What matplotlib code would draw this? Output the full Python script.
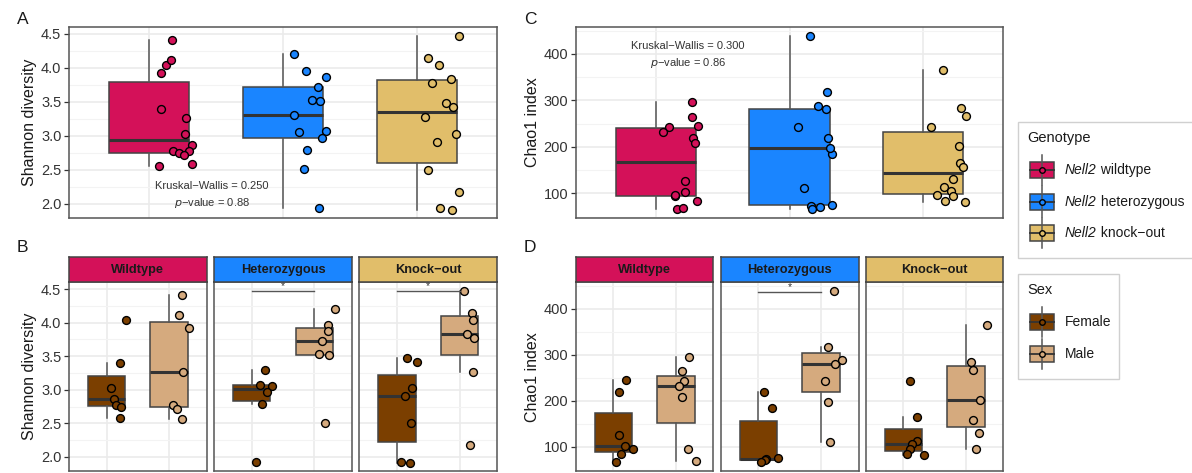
import numpy as np
import matplotlib.pyplot as plt
from matplotlib.patches import Rectangle
from matplotlib.lines import Line2D
from matplotlib.ticker import MultipleLocator
import matplotlib.transforms as mtransforms

plt.rcParams['font.family'] = ['Liberation Sans', 'DejaVu Sans']

# genotype groups and sexes
genotypes = ['Wildtype', 'Heterozygous', 'Knock\u2212out']
legend_geno = ['wildtype', 'heterozygous', 'knock\u2212out']
sexes = ['Female', 'Male']

geno_colors = ['#D41159', '#1A85FF', '#E1BE6A']
sex_colors = ['#7B3F00', '#D5AA7E']

# Shannon diversity per genotype / sex
sh_wt_f = [4.04, 3.40, 3.02, 2.86, 2.77, 2.74, 2.58]
sh_wt_m = [4.41, 4.11, 3.92, 3.26, 2.78, 2.72, 2.56]
sh_het_f = [3.30, 3.07, 3.05, 2.97, 2.79, 1.93]
sh_het_m = [4.20, 3.96, 3.87, 3.72, 3.53, 3.51, 2.51]
sh_ko_f = [3.48, 3.42, 3.02, 2.91, 2.50, 1.93, 1.91]
sh_ko_m = [4.47, 4.15, 4.04, 3.83, 3.77, 3.27, 2.17]

# Chao1 index per genotype / sex
ch_wt_f = [245, 220, 126, 102, 95, 83, 67]
ch_wt_m = [296, 265, 242, 233, 208, 96, 69]
ch_het_f = [220, 184, 75, 73, 71, 67]
ch_het_m = [439, 318, 288, 281, 243, 197, 111]
ch_ko_f = [242, 165, 113, 106, 96, 83, 81]
ch_ko_m = [365, 284, 267, 201, 157, 130, 95]

# horizontal jitter of the points (female then male)
ja_wt = [.122, .087, .271, .318, .177, .224, .318, .169, .159, .085, .276, .296, .259, .072]
ja_het = [.082, .318, .122, .291, .177, .271, .082, .169, .318, .259, .219, .274, .157]
ja_ko = [.216, .271, .291, .154, .082, .174, .266, .318, .082, .167, .259, .117, .065, .318]
jc_wt = [.313, .280, .220, .218, .145, .308, .158, .268, .270, .098, .053, .290, .145, .203]
jc_het = [.288, .320, .315, .163, .225, .168, .153, .280, .215, .273, .063, .300, .105]
jc_ko = [.063, .280, .158, .213, .105, .165, .318, .153, .288, .320, .270, .300, .225, .225]

jb_wt = [[.309, .213, .064, .122, .154, .234, .213], [.213, .160, .314, .223, .059, .122, .202]]
jb_het = [[.218, .128, .330, .239, .170, .074], [.324, .218, .213, .122, .069, .234, .165]]
jb_ko = [[.160, .324, .239, .128, .218, .069, .213], [.064, .191, .207, .117, .229, .207, .165]]
jd_wt = [[.199, .081, .086, .183, .312, .129, .043], [.210, .091, .134, .054, .091, .199, .328]]
jd_het = [[.097, .210, .320, .129, .100, .048], [.210, .113, .328, .215, .065, .113, .145]]
jd_ko = [[.108, .220, .210, .145, .102, .059, .333], [.344, .075, .113, .226, .113, .215, .156]]

shannon = [[sh_wt_f, sh_wt_m], [sh_het_f, sh_het_m], [sh_ko_f, sh_ko_m]]
chao = [[ch_wt_f, ch_wt_m], [ch_het_f, ch_het_m], [ch_ko_f, ch_ko_m]]

# Kruskal-Wallis results and female vs male significance
kw_shannon = (0.250, 0.88)
kw_chao = (0.300, 0.86)
sig_shannon = ['', '*', '*']
sig_chao = ['', '*', '']

W, H = 1192, 473
fig = plt.figure(figsize=(W / 100, H / 100), dpi=100)

TXT = '#333333'
EDGE = '#333333'


def px_axes(x0, y0, x1, y1):
    return fig.add_axes([x0 / W, 1 - y1 / H, (x1 - x0) / W, (y1 - y0) / H])


def style(ax, ylim, major, minor, show_y=True):
    ax.set_ylim(*ylim)
    ax.yaxis.set_major_locator(MultipleLocator(major))
    ax.yaxis.set_minor_locator(MultipleLocator(minor))
    ax.grid(True, which='major', color='#EBEBEB', lw=1.2, zorder=0)
    ax.grid(True, which='minor', axis='y', color='#F3F3F3', lw=0.8, zorder=0)
    ax.set_axisbelow(True)
    for s in ax.spines.values():
        s.set_color('#555555')
        s.set_linewidth(1.1)
    ax.tick_params(axis='x', length=0, labelbottom=False)
    ax.tick_params(axis='y', which='minor', length=0)
    if show_y:
        ax.tick_params(axis='y', which='major', length=3.5, width=0.9,
                       color=EDGE, labelsize=10.5, labelcolor=TXT, pad=2)
    else:
        ax.tick_params(axis='y', which='major', length=0, labelleft=False)


def boxes(ax, groups, colors, jitters):
    pos = np.arange(1, len(groups) + 1)
    bp = ax.boxplot(groups, positions=pos, widths=0.6, patch_artist=True,
                    showfliers=False, showcaps=False,
                    medianprops=dict(color='#333333', lw=2.2),
                    whiskerprops=dict(color='#555555', lw=1.1),
                    boxprops=dict(edgecolor='#444444', lw=1.1), zorder=2)
    for patch, c in zip(bp['boxes'], colors):
        patch.set_facecolor(c)
    for p, vals, c, jit in zip(pos, groups, colors, jitters):
        ax.scatter(p + np.array(jit), vals, s=32, color=c, edgecolor='black',
                   linewidth=1.0, zorder=3)
    ax.set_xlim(0.4, len(groups) + 0.6)


# Panel A / C: all samples per genotype
top = [(69, 497, shannon, [ja_wt, ja_het, ja_ko], (1.79, 4.60), 0.5, 0.25,
        'Shannon diversity', kw_shannon, (1.47, 2.26, 2.01), 'A'),
       (576, 1003, chao, [jc_wt, jc_het, jc_ko], (47, 458), 100, 50,
        'Chao1 index', kw_chao, (1.24, 417, 380), 'C')]
for x0, x1, data, jit, ylim, mj, mn, ylabel, kw, kwpos, letter in top:
    ax = px_axes(x0, 27, x1, 218)
    style(ax, ylim, mj, mn)
    groups = [f + m for f, m in data]
    boxes(ax, groups, geno_colors, jit)
    ax.set_ylabel(ylabel, fontsize=11.5, color='#1a1a1a', labelpad=3)
    ax.text(kwpos[0], kwpos[1], 'Kruskal\u2212Wallis = %.3f' % kw[0],
            ha='center', va='center', fontsize=8, color=TXT)
    ax.text(kwpos[0], kwpos[2], '$p$\u2212value = %.2f' % kw[1],
            ha='center', va='center', fontsize=8, color=TXT)
    fig.text((x0 - 52) / W, 1 - 19 / H, letter, fontsize=12.5,
             ha='left', va='center', color='#1a1a1a')

# Panel B / D: faceted by genotype, split by sex
bottom = [([(69, 206.7), (214, 352), (359.3, 497.3)], shannon, [jb_wt, jb_het, jb_ko],
           (1.79, 4.60), 0.5, 0.25, 'Shannon diversity', sig_shannon, (0.955, 0.982), 'B'),
          ([(576, 713.3), (720.7, 858.7), (866, 1003.3)], chao, [jd_wt, jd_het, jd_ko],
           (47, 458), 100, 50, 'Chao1 index', sig_chao, (0.948, 0.975), 'D')]
for facets, data, jit, ylim, mj, mn, ylabel, sig, sigpos, letter in bottom:
    for i, (x0, x1) in enumerate(facets):
        ax = px_axes(x0, 282.3, x1, 471)
        style(ax, ylim, mj, mn, show_y=(i == 0))
        boxes(ax, data[i], sex_colors, jit[i])
        if i == 0:
            ax.set_ylabel(ylabel, fontsize=11.5, color='#1a1a1a', labelpad=3)
        if sig[i]:
            tr = mtransforms.blended_transform_factory(ax.transData, ax.transAxes)
            ax.plot([1, 2], [sigpos[0]] * 2, color='#555555', lw=1.0, transform=tr,
                    zorder=4)
            ax.text(1.5, sigpos[1], sig[i], transform=tr, ha='center', va='center',
                    fontsize=7.5, color=TXT)
        st = px_axes(x0, 256.7, x1, 282.3)
        st.set_facecolor(geno_colors[i])
        st.set_xticks([])
        st.set_yticks([])
        for s in st.spines.values():
            s.set_color('#444444')
            s.set_linewidth(1.1)
        st.text(0.5, 0.48, genotypes[i], ha='center', va='center', fontsize=9.2,
                fontweight='bold', color='#1a1a1a', transform=st.transAxes)
    fig.text((facets[0][0] - 52) / W, 1 - 247 / H, letter, fontsize=12.5,
             ha='left', va='center', color='#1a1a1a')

# legends drawn on a pixel-space overlay
lg = fig.add_axes([0, 0, 1, 1], zorder=10)
lg.set_xlim(0, W)
lg.set_ylim(H, 0)
lg.axis('off')
lg.patch.set_alpha(0)


def key(cx, cy, color):
    lg.add_line(Line2D([cx, cx], [cy - 15, cy + 15], color='#555555', lw=1.1))
    lg.add_patch(Rectangle((cx - 12, cy - 8), 24, 16, facecolor=color,
                           edgecolor='#444444', lw=1.1))
    lg.add_line(Line2D([cx - 12, cx + 12], [cy, cy], color='#333333', lw=1.3))
    lg.scatter([cx], [cy], s=16, color=color, edgecolor='black', linewidth=1.0,
               zorder=5)


lg.add_patch(Rectangle((1018, 122), 190, 136, facecolor='white',
                       edgecolor='#D0D0D0', lw=1.0))
lg.text(1027, 138, 'Genotype', fontsize=10.5, color='#1a1a1a', va='center')
for k, (lab, c) in enumerate(zip(legend_geno, geno_colors)):
    cy = 170 + 31.5 * k
    key(1042, cy, c)
    t = lg.text(1065, cy, 'Nell2', fontsize=10, style='italic', color='#1a1a1a',
                va='center')
    lg.annotate(' ' + lab, xy=(1, 0.5), xycoords=t, va='center', ha='left',
                fontsize=10, color='#1a1a1a')

lg.add_patch(Rectangle((1018, 274), 101, 105, facecolor='white',
                       edgecolor='#D0D0D0', lw=1.0))
lg.text(1027, 290, 'Sex', fontsize=10.5, color='#1a1a1a', va='center')
for k, (lab, c) in enumerate(zip(sexes, sex_colors)):
    cy = 322 + 32 * k
    key(1042, cy, c)
    lg.text(1065, cy, lab, fontsize=10, color='#1a1a1a', va='center')

fig.savefig('out.png', dpi=100)
